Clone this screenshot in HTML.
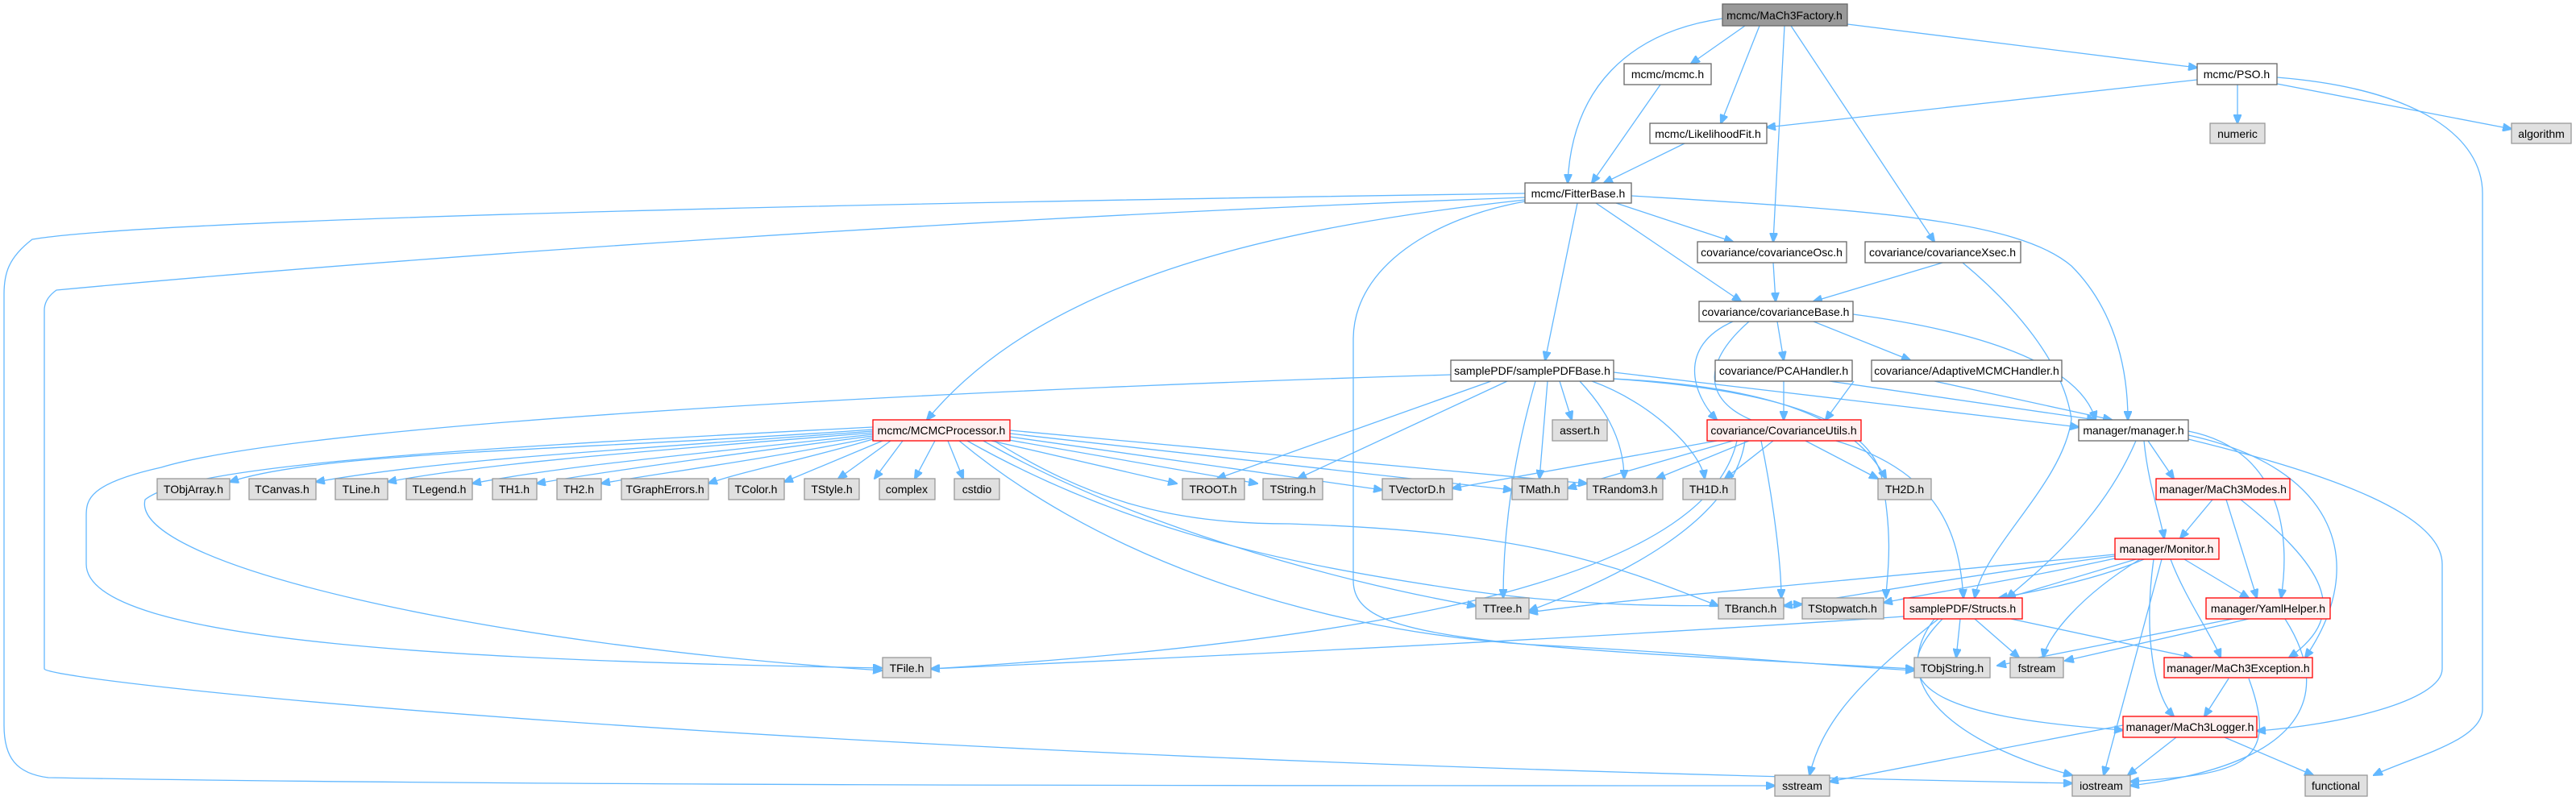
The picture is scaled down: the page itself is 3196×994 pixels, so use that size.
<!DOCTYPE html>
<html><head><meta charset="utf-8"><style>
html,body{margin:0;padding:0;background:#fff}
svg{display:block}
text{font-family:"Liberation Sans",Arial,sans-serif;font-size:14px;fill:#000;text-anchor:middle}
.w{fill:#fff;stroke:#666;stroke-width:1.3}
.g{fill:#e0e0e0;stroke:#999;stroke-width:1.3}
.r{fill:#fff0f0;stroke:#f00;stroke-width:1.3}
.m{fill:#999;stroke:#666;stroke-width:1.3}
path{fill:none;stroke:#63b8ff;stroke-width:1.3}
</style></head><body>
<svg width="3196" height="994" viewBox="0 0 3196 994" xmlns="http://www.w3.org/2000/svg">
<defs><marker id="a" markerWidth="12" markerHeight="10" refX="11" refY="5" orient="auto" markerUnits="userSpaceOnUse"><path d="M0,0 L12,5 L0,10 Z" style="fill:#63b8ff;stroke:#63b8ff"/></marker></defs>
<g marker-end="url(#a)">
<!-- MaCh3Factory -->
<path d="M2137,23 C2020,40 1950,110 1945,227"/>
<path d="M2165,32 L2098,79"/>
<path d="M2183,32 L2135,153"/>
<path d="M2214,32 L2200,300"/>
<path d="M2222,32 L2400,300"/>
<path d="M2292,30 L2726,84"/>
<!-- mcmc / PSO / Likelihood -->
<path d="M2060,105 L1975,227"/>
<path d="M2726,99 L2192,158"/>
<path d="M2776,105 L2776,153"/>
<path d="M2825,104 L3116,160"/>
<path d="M2825,96 C3000,110 3080,170 3080,240 L3080,880 C3080,920 2990,940 2945,962"/>
<path d="M2090,178 L1990,227"/>
<!-- FitterBase -->
<path d="M1892,240 C1200,250 200,270 40,297 C10,320 5,340 5,365 L5,900 C5,940 20,960 60,965 C600,975 1500,975 2202,975"/>
<path d="M1892,245 C1200,270 500,320 70,360 C56,370 55,380 55,385 L55,830 C60,845 900,940 2571,972"/>
<path d="M1892,248 C1600,280 1300,340 1150,521"/>
<path d="M1892,250 C1780,270 1680,330 1679,420 L1679,720 C1679,790 1800,800 2375,830"/>
<path d="M1957,252 L1917,447"/>
<path d="M2005,252 L2150,300"/>
<path d="M1980,252 L2160,374"/>
<path d="M2024,243 C2300,260 2500,270 2570,330 C2620,380 2640,450 2640,521"/>
<!-- cov -->
<path d="M2200,326 L2203,374"/>
<path d="M2410,326 L2250,374"/>
<path d="M2435,326 C2500,380 2560,450 2570,520 C2560,600 2460,680 2450,742"/>
<path d="M2205,399 L2213,447"/>
<path d="M2250,399 L2370,447"/>
<path d="M2299,390 C2450,410 2580,450 2600,521"/>
<path d="M2150,399 C2080,430 2100,490 2130,521"/>
<path d="M2170,399 C2100,460 2120,510 2200,530 C2400,560 2430,650 2436,742"/>
<path d="M2213,473 L2213,521"/>
<path d="M2270,473 L2600,521"/>
<path d="M2300,473 L2265,521"/>
<path d="M2400,473 L2620,521"/>
<!-- samplePDFBase -->
<path d="M1800,465 C1300,480 400,520 200,580 C110,600 107,620 107,640 L107,700 C107,800 600,820 1094,829"/>
<path d="M1850,473 L1510,594"/>
<path d="M1870,473 L1610,594"/>
<path d="M1935,473 L1950,521"/>
<path d="M1920,473 L1910,594"/>
<path d="M1905,473 C1880,560 1865,650 1865,742"/>
<path d="M1960,473 C1985,500 2015,540 2015,594"/>
<path d="M1975,473 C2050,500 2110,560 2115,594"/>
<path d="M2002,462 L2579,530"/>
<path d="M2002,470 C2200,480 2300,520 2340,594"/>
<path d="M2000,470 C2300,490 2330,560 2336,600 C2350,680 2340,720 2340,742"/>
<!-- MCMCProcessor -->
<path d="M1083,533 C700,560 400,560 285,598"/>
<path d="M1083,535 C750,560 550,570 392,598"/>
<path d="M1083,537 C800,560 600,575 481,598"/>
<path d="M1083,539 C850,565 700,578 586,600"/>
<path d="M1083,541 C900,565 750,585 666,600"/>
<path d="M1083,543 C950,570 800,590 746,600"/>
<path d="M1083,545 C1000,570 920,585 879,600"/>
<path d="M1095,547 L973,598"/>
<path d="M1105,547 L1040,594"/>
<path d="M1120,547 L1085,594"/>
<path d="M1160,547 L1135,594"/>
<path d="M1176,547 L1195,594"/>
<path d="M1230,547 L1460,600"/>
<path d="M1240,544 L1560,600"/>
<path d="M1253,542 L1715,608"/>
<path d="M1253,538 L1876,608"/>
<path d="M1253,534 L1969,600"/>
<path d="M1220,547 C1400,650 1650,720 1831,752"/>
<path d="M1230,545 C1350,620 1450,650 1600,650 C1900,660 2000,700 2132,752"/>
<path d="M1200,547 C1400,660 1600,700 1800,730 C2000,760 2150,750 2236,750"/>
<path d="M1083,530 C500,560 230,580 180,620 C160,700 600,800 1094,832"/>
<path d="M1190,547 C1350,680 1600,780 1900,800 C2100,810 2250,825 2375,832"/>
<!-- CovarianceUtils -->
<path d="M2130,547 L1802,606"/>
<path d="M2150,547 L1945,606"/>
<path d="M2170,547 L2055,594"/>
<path d="M2200,547 L2140,594"/>
<path d="M2240,547 L2330,594"/>
<path d="M2185,547 C2200,620 2210,700 2210,742"/>
<path d="M2165,547 C2150,650 2000,720 1897,758"/>
<path d="M2155,547 C2120,700 1800,790 1155,830"/>
<!-- manager.h -->
<path d="M2665,547 L2697,594"/>
<path d="M2660,547 C2665,600 2680,640 2685,668"/>
<path d="M2650,547 C2610,640 2540,700 2490,742"/>
<path d="M2715,535 C2840,560 2840,680 2830,742"/>
<path d="M2715,540 C2900,580 2940,700 2860,816"/>
<path d="M2715,545 C2900,590 3030,640 3030,700 L3030,830 C3030,870 2900,900 2800,907"/>
<!-- MaCh3Modes -->
<path d="M2745,620 L2705,668"/>
<path d="M2762,620 L2800,742"/>
<path d="M2780,620 C2880,700 2920,760 2840,816"/>
<!-- Monitor -->
<path d="M2624,688 C2300,720 2000,745 1897,760"/>
<path d="M2624,690 C2400,720 2300,740 2213,752"/>
<path d="M2624,693 C2500,720 2400,735 2337,748"/>
<path d="M2650,694 L2490,742"/>
<path d="M2660,694 C2600,720 2520,735 2480,742"/>
<path d="M2655,694 C2580,740 2540,790 2535,816"/>
<path d="M2682,694 L2610,962"/>
<path d="M2672,694 C2660,780 2670,860 2697,889"/>
<path d="M2693,694 C2710,740 2745,790 2755,816"/>
<path d="M2710,694 L2790,742"/>
<!-- Structs -->
<path d="M2362,765 C2000,790 1600,810 1155,830"/>
<path d="M2432,768 L2427,816"/>
<path d="M2450,768 L2505,816"/>
<path d="M2495,768 L2720,816"/>
<path d="M2410,768 C2330,850 2400,890 2634,906"/>
<path d="M2405,768 C2300,850 2260,900 2245,962"/>
<path d="M2400,768 C2330,860 2450,930 2571,962"/>
<!-- YamlHelper -->
<path d="M2770,768 L2478,826"/>
<path d="M2790,768 L2562,820"/>
<path d="M2835,768 C2900,870 2850,950 2643,975"/>
<!-- MaCh3Exception -->
<path d="M2765,842 L2735,889"/>
<path d="M2790,842 C2830,950 2780,960 2643,970"/>
<!-- MaCh3Logger -->
<path d="M2634,900 L2270,970"/>
<path d="M2700,915 L2640,962"/>
<path d="M2760,915 L2870,962"/>
</g>
<!-- nodes -->
<rect class="m" x="2137" y="5" width="155" height="27"/><text x="2214" y="24">mcmc/MaCh3Factory.h</text>
<rect class="w" x="2015" y="79" width="108" height="26"/><text x="2069" y="97">mcmc/mcmc.h</text>
<rect class="w" x="2726" y="79" width="99" height="26"/><text x="2775" y="97">mcmc/PSO.h</text>
<rect class="w" x="2047" y="153" width="145" height="25"/><text x="2119" y="171">mcmc/LikelihoodFit.h</text>
<rect class="g" x="2742" y="153" width="68" height="25"/><text x="2776" y="171">numeric</text>
<rect class="g" x="3116" y="153" width="74" height="25"/><text x="3153" y="171">algorithm</text>
<rect class="w" x="1892" y="227" width="132" height="25"/><text x="1958" y="245">mcmc/FitterBase.h</text>
<rect class="w" x="2106" y="300" width="185" height="26"/><text x="2198" y="318">covariance/covarianceOsc.h</text>
<rect class="w" x="2314" y="300" width="193" height="26"/><text x="2410" y="318">covariance/covarianceXsec.h</text>
<rect class="w" x="2108" y="374" width="191" height="25"/><text x="2203" y="392">covariance/covarianceBase.h</text>
<rect class="w" x="1800" y="447" width="202" height="26"/><text x="1901" y="465">samplePDF/samplePDFBase.h</text>
<rect class="w" x="2128" y="447" width="170" height="26"/><text x="2213" y="465">covariance/PCAHandler.h</text>
<rect class="w" x="2322" y="447" width="236" height="26"/><text x="2440" y="465">covariance/AdaptiveMCMCHandler.h</text>
<rect class="r" x="1083" y="521" width="170" height="26"/><text x="1168" y="539">mcmc/MCMCProcessor.h</text>
<rect class="g" x="1926" y="521" width="68" height="26"/><text x="1960" y="539">assert.h</text>
<rect class="r" x="2118" y="521" width="191" height="26"/><text x="2213" y="539">covariance/CovarianceUtils.h</text>
<rect class="w" x="2579" y="521" width="136" height="26" style="stroke:#666"/><text x="2647" y="539">manager/manager.h</text>
<rect class="g" x="195" y="594" width="90" height="26"/><text x="240" y="612">TObjArray.h</text>
<rect class="g" x="309" y="594" width="83" height="26"/><text x="350" y="612">TCanvas.h</text>
<rect class="g" x="416" y="594" width="65" height="26"/><text x="448" y="612">TLine.h</text>
<rect class="g" x="504" y="594" width="82" height="26"/><text x="545" y="612">TLegend.h</text>
<rect class="g" x="611" y="594" width="55" height="26"/><text x="638" y="612">TH1.h</text>
<rect class="g" x="691" y="594" width="55" height="26"/><text x="718" y="612">TH2.h</text>
<rect class="g" x="771" y="594" width="108" height="26"/><text x="825" y="612">TGraphErrors.h</text>
<rect class="g" x="904" y="594" width="69" height="26"/><text x="938" y="612">TColor.h</text>
<rect class="g" x="998" y="594" width="68" height="26"/><text x="1032" y="612">TStyle.h</text>
<rect class="g" x="1091" y="594" width="69" height="26"/><text x="1125" y="612">complex</text>
<rect class="g" x="1184" y="594" width="56" height="26"/><text x="1212" y="612">cstdio</text>
<rect class="g" x="1467" y="594" width="77" height="26"/><text x="1505" y="612">TROOT.h</text>
<rect class="g" x="1567" y="594" width="74" height="26"/><text x="1604" y="612">TString.h</text>
<rect class="g" x="1715" y="594" width="87" height="26"/><text x="1758" y="612">TVectorD.h</text>
<rect class="g" x="1876" y="594" width="69" height="26"/><text x="1910" y="612">TMath.h</text>
<rect class="g" x="1969" y="594" width="94" height="26"/><text x="2016" y="612">TRandom3.h</text>
<rect class="g" x="2088" y="594" width="65" height="26"/><text x="2120" y="612">TH1D.h</text>
<rect class="g" x="2330" y="594" width="66" height="26"/><text x="2363" y="612">TH2D.h</text>
<rect class="r" x="2675" y="594" width="166" height="26"/><text x="2758" y="612">manager/MaCh3Modes.h</text>
<rect class="r" x="2624" y="668" width="129" height="26"/><text x="2688" y="686">manager/Monitor.h</text>
<rect class="g" x="1831" y="742" width="66" height="26"/><text x="1864" y="760">TTree.h</text>
<rect class="g" x="2132" y="742" width="81" height="26"/><text x="2172" y="760">TBranch.h</text>
<rect class="g" x="2236" y="742" width="101" height="26"/><text x="2286" y="760">TStopwatch.h</text>
<rect class="r" x="2362" y="742" width="147" height="26"/><text x="2435" y="760">samplePDF/Structs.h</text>
<rect class="r" x="2737" y="742" width="154" height="26"/><text x="2814" y="760">manager/YamlHelper.h</text>
<rect class="g" x="1095" y="816" width="60" height="25"/><text x="1125" y="834">TFile.h</text>
<rect class="g" x="2375" y="816" width="94" height="25"/><text x="2422" y="834">TObjString.h</text>
<rect class="g" x="2494" y="816" width="66" height="25"/><text x="2527" y="834">fstream</text>
<rect class="r" x="2685" y="816" width="184" height="25"/><text x="2777" y="834">manager/MaCh3Exception.h</text>
<rect class="r" x="2634" y="889" width="166" height="26"/><text x="2717" y="907">manager/MaCh3Logger.h</text>
<rect class="g" x="2202" y="962" width="68" height="26"/><text x="2236" y="980">sstream</text>
<rect class="g" x="2571" y="962" width="72" height="26"/><text x="2607" y="980">iostream</text>
<rect class="g" x="2860" y="962" width="77" height="26"/><text x="2898" y="980">functional</text>
</svg>
</body></html>
